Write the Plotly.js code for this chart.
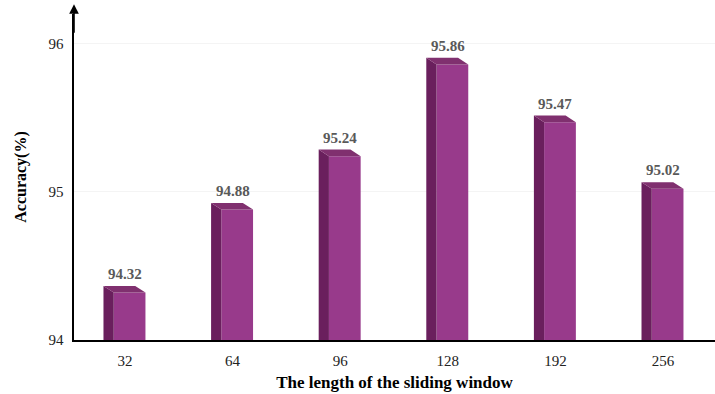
<!DOCTYPE html>
<html>
<head>
<meta charset="utf-8">
<script src="https://cdn.plot.ly/plotly-3.0.1.min.js"></script>
<style>html,body{margin:0;padding:0;background:#fff;}#chart{width:715px;height:394px;}</style>
</head>
<body>
<div id="chart"></div>
<script>
const categories = ["32", "64", "96", "128", "192", "256"];
const accuracy = [94.32, 94.88, 95.24, 95.86, 95.47, 95.02];
const valueLabels = ["94.32", "94.88", "95.24", "95.86", "95.47", "95.02"];

const FRONT_L = -0.105, FRONT_R = 0.19, SIDE_L = -0.2, DEPTH_X = -0.095, DEPTH_Y = 0.045;
const idx = categories.map((c, i) => i);

const sx = [], sy = [], tx = [], ty = [];
idx.forEach((i) => {
  const v = accuracy[i];
  sx.push(i + SIDE_L, i + FRONT_L, i + FRONT_L, i + SIDE_L, i + SIDE_L, null);
  sy.push(93.9, 93.9, v, v + DEPTH_Y, 93.9, null);
  tx.push(i + FRONT_L, i + FRONT_R, i + FRONT_R + DEPTH_X, i + SIDE_L, i + FRONT_L, null);
  ty.push(v, v, v + DEPTH_Y, v + DEPTH_Y, v, null);
});

const traces = [
  {type: 'bar', x: idx, y: accuracy, base: 0, width: FRONT_R - FRONT_L, offset: FRONT_L,
   marker: {color: '#983a8b', line: {width: 0}}, hoverinfo: 'skip', showlegend: false},
  {type: 'scatter', mode: 'lines', x: sx, y: sy, fill: 'toself', fillcolor: '#6a1f5d',
   line: {width: 0, color: '#6a1f5d'}, hoverinfo: 'skip', showlegend: false},
  {type: 'scatter', mode: 'lines', x: tx, y: ty, fill: 'toself', fillcolor: '#80306f',
   line: {width: 0, color: '#80306f'}, hoverinfo: 'skip', showlegend: false}
];

const annotations = idx.map((i) => ({
  x: i, y: accuracy[i] + DEPTH_Y, xref: 'x', yref: 'y', text: '<b>' + valueLabels[i] + '</b>',
  showarrow: false, yanchor: 'bottom', yshift: 2,
  font: {family: 'Liberation Serif, Times New Roman, serif', size: 15, color: '#595959'}
}));
annotations.push({
  x: 0, y: 1.03, xref: 'paper', yref: 'paper', ax: 0, ay: 30, text: '',
  showarrow: true, arrowhead: 2, arrowsize: 1.2, arrowwidth: 1.6, arrowcolor: '#000'
});

const layout = {
  width: 715, height: 394,
  margin: {l: 74, r: 0, t: 14, b: 54},
  paper_bgcolor: '#fff', plot_bgcolor: '#fff',
  showlegend: false,
  xaxis: {
    range: [-0.474, 5.483], tickvals: idx, ticktext: categories,
    showgrid: false, zeroline: false, showline: true, linecolor: '#000', linewidth: 1.6,
    ticks: '', ticklabelstandoff: 6,
    tickfont: {family: 'Liberation Serif, Times New Roman, serif', size: 15, color: '#222'},
    title: {text: '<b>The length of the sliding window</b>', standoff: 8,
      font: {family: 'Liberation Serif, Times New Roman, serif', size: 17, color: '#000'}}
  },
  yaxis: {
    range: [94, 96.2], tickvals: [94, 95, 96], ticktext: ['94', '95', '96'],
    showgrid: true, gridcolor: '#f4f4f4', gridwidth: 1, zeroline: false,
    showline: true, linecolor: '#000', linewidth: 1.6, ticks: '', ticklabelstandoff: 6,
    tickfont: {family: 'Liberation Serif, Times New Roman, serif', size: 15, color: '#222'},
    title: {text: '<b>Accuracy(%)</b>', standoff: 18,
      font: {family: 'Liberation Serif, Times New Roman, serif', size: 16, color: '#000'}}
  },
  annotations: annotations
};

Plotly.newPlot('chart', traces, layout, {displayModeBar: false, staticPlot: true});
</script>
</body>
</html>
